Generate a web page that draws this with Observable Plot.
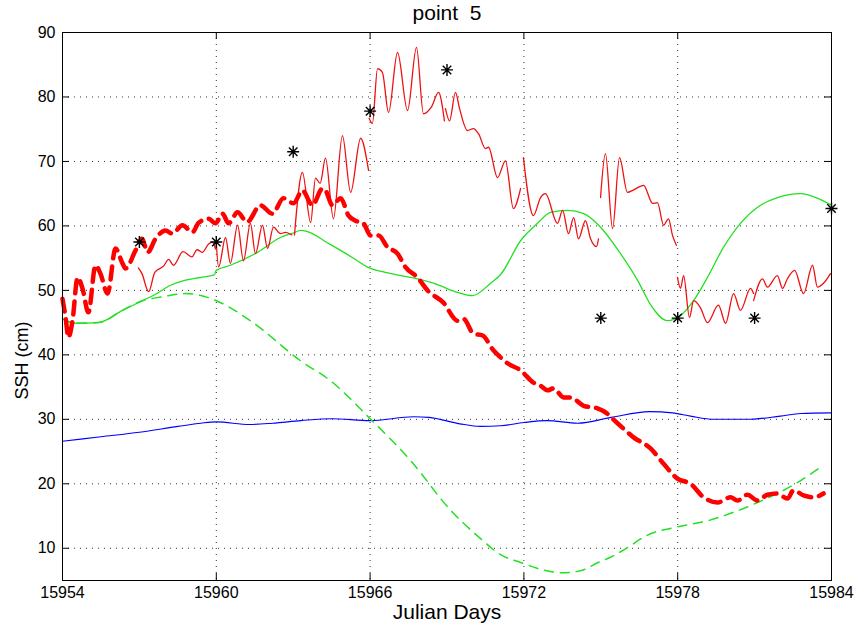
<!DOCTYPE html>
<html>
<head>
<meta charset="utf-8">
<script src="https://cdn.jsdelivr.net/npm/d3@7"></script>
<script src="https://cdn.jsdelivr.net/npm/@observablehq/plot@0.6"></script>
<style>
  html, body { margin: 0; padding: 0; background: white; }
  #chart { width: 858px; height: 628px; }
</style>
</head>
<body>
<div id="chart"></div>
<script>
// ---- text ----
const titleText = "point  5";
const xLabel = "Julian Days";
const yLabel = "SSH (cm)";

// ---- tick values ----
const xTicks = [15954, 15960, 15966, 15972, 15978, 15984];
const yTicks = [10, 20, 30, 40, 50, 60, 70, 80, 90];

// ---- observations (asterisks) ----
const obsDays = [15957, 15960, 15963, 15966, 15969, 15975, 15978, 15981, 15984];
const obsValues = [57.5, 57.5, 71.5, 77.8, 84.2, 45.7, 45.7, 45.7, 62.7];

// ---- thick red dashed series [day, SSH] ----
const thickRed = [[15954.00,48.7],[15954.12,45.8],[15954.23,42.7],[15954.39,45.3],[15954.59,52.0],[15954.78,50.3],[15955.01,46.6],[15955.29,53.9],[15955.48,52.6],[15955.76,49.5],[15956.07,56.5],[15956.34,54.2],[15956.46,53.4],[15956.85,56.2],[15957.10,58.0],[15957.32,55.9],[15957.63,58.0],[15958.02,59.3],[15958.29,58.8],[15958.68,60.1],[15959.07,59.0],[15959.31,60.5],[15959.70,61.1],[15959.97,60.4],[15960.24,61.9],[15960.48,60.4],[15960.83,62.1],[15961.20,60.6],[15961.72,63.2],[15962.19,61.9],[15962.62,64.3],[15963.01,63.5],[15963.36,65.5],[15963.75,63.2],[15964.14,65.8],[15964.26,65.5],[15964.53,63.2],[15964.85,64.3],[15965.16,61.6],[15965.43,60.8],[15965.74,60.4],[15966.02,58.5],[15966.33,58.5],[15966.68,56.7],[15967.07,55.7],[15967.38,53.6],[15967.85,52.0],[15968.24,50.0],[15968.86,48.1],[15969.41,45.3],[15969.64,45.6],[15970.03,43.3],[15970.39,43.0],[15970.81,40.7],[15971.09,39.6],[15971.36,38.7],[15971.87,37.6],[15972.37,35.7],[15972.65,35.2],[15972.92,34.5],[15973.16,34.8],[15973.55,33.4],[15973.82,33.4],[15974.33,32.1],[15974.87,31.7],[15975.10,31.3],[15975.65,29.4],[15976.28,27.2],[15976.94,25.5],[15977.45,23.1],[15977.99,20.8],[15978.50,20.0],[15979.01,17.9],[15979.55,17.1],[15980.06,17.9],[15980.33,17.4],[15980.72,18.3],[15981.11,17.4],[15981.50,18.3],[15981.89,18.5],[15982.28,17.7],[15982.52,19.0],[15982.91,18.2],[15983.30,17.9],[15983.69,18.5]];

// ---- thin red series, 3-day segments ----
const redSeg1 = [[15956.96,53.5],[15957.10,52.6],[15957.36,49.8],[15957.60,52.8],[15957.95,53.8],[15958.14,54.8],[15958.33,53.9],[15958.70,56.0],[15959.05,55.2],[15959.25,56.3],[15959.45,55.9],[15959.70,57.2],[15959.85,57.5],[15959.97,56.4]];
const redSeg2 = [[15960.00,57.3],[15960.09,53.6],[15960.36,58.2],[15960.55,54.2],[15960.83,60.1],[15961.06,54.6],[15961.33,60.4],[15961.53,55.7],[15961.80,60.1],[15962.00,56.5],[15962.23,59.8],[15962.50,58.8],[15962.70,59.0],[15962.95,58.6]];
const redSeg3 = [[15963.05,58.6],[15963.36,68.3],[15963.68,60.5],[15963.87,67.4],[15964.05,66.6],[15964.26,70.5],[15964.57,61.1],[15964.92,74.0],[15965.24,65.2],[15965.63,73.6],[15965.94,68.6]];
const redSeg4 = [[15965.96,76.7],[15966.09,75.9],[15966.29,84.4],[15966.48,83.8],[15966.72,77.6],[15967.07,86.9],[15967.46,77.9],[15967.81,87.7],[15968.08,77.4],[15968.40,78.5],[15968.67,80.7],[15968.90,76.3]];
const redSeg5 = [[15968.94,78.2],[15969.10,76.3],[15969.33,80.7],[15969.49,78.2],[15969.80,74.8],[15970.03,75.1],[15970.23,74.3],[15970.50,72.0],[15970.62,72.2],[15970.97,67.5],[15971.28,70.1],[15971.59,62.7],[15971.87,65.8]];
const redSeg6 = [[15971.98,70.6],[15972.37,61.6],[15972.65,64.4],[15972.84,65.0],[15973.31,60.4],[15973.51,62.4],[15973.74,58.8],[15973.94,61.3],[15974.13,58.0],[15974.40,60.8],[15974.60,58.0],[15974.83,56.8],[15974.91,58.0]];
const redSeg7 = [[15974.99,64.4],[15975.18,71.2],[15975.46,59.6],[15975.73,70.6],[15976.04,65.2],[15976.28,65.6],[15976.67,66.3],[15977.02,63.5],[15977.21,63.6],[15977.45,60.1],[15977.64,61.1],[15977.80,58.5],[15977.95,57.0]];
const redSeg8 = [[15977.99,52.0],[15978.11,50.3],[15978.23,52.3],[15978.46,45.8],[15978.62,48.4],[15978.89,47.3],[15979.16,45.0],[15979.59,47.7],[15979.87,44.9],[15980.18,49.5],[15980.45,46.9],[15980.84,50.3],[15980.96,49.5]];
const redSeg9 = [[15980.96,48.4],[15981.31,51.8],[15981.50,50.5],[15981.89,52.3],[15982.09,50.3],[15982.28,51.8],[15982.56,53.1],[15982.91,49.5],[15983.26,53.9],[15983.45,50.5],[15983.69,51.1],[15983.96,52.6]];

// ---- green solid series ----
const greenSolid = [[15954.00,45.6],[15954.51,44.9],[15955.40,45.0],[15956.34,46.9],[15957.12,48.4],[15957.63,49.4],[15958.21,50.8],[15958.80,51.6],[15959.38,52.0],[15959.92,52.4],[15960.00,53.1],[15960.55,53.9],[15961.61,55.9],[15962.50,58.2],[15963.00,58.9],[15963.30,59.3],[15963.75,58.8],[15964.20,57.7],[15964.85,56.2],[15965.50,54.6],[15965.90,53.6],[15966.60,52.8],[15967.20,52.3],[15967.85,51.8],[15968.50,51.1],[15969.40,49.7],[15970.00,49.2],[15970.70,51.1],[15971.10,52.5],[15971.87,57.7],[15972.53,60.4],[15973.04,62.1],[15973.70,62.4],[15974.33,61.9],[15974.99,59.8],[15975.77,55.7],[15976.43,51.6],[15976.94,47.8],[15977.60,45.3],[15978.11,46.1],[15978.62,48.4],[15979.16,52.0],[15979.79,56.7],[15980.45,60.4],[15981.23,63.2],[15981.89,64.4],[15982.79,65.0],[15983.45,64.3],[15984.00,63.2]];

// ---- green dashed series ----
const greenDashed = [[15954.00,45.6],[15954.51,44.9],[15955.40,45.0],[15956.34,46.9],[15957.12,48.4],[15957.90,49.0],[15958.80,49.5],[15959.40,49.2],[15960.00,48.4],[15961.33,45.3],[15963.28,39.1],[15964.45,36.0],[15966.00,30.1],[15967.58,23.6],[15969.14,15.9],[15970.31,11.5],[15971.09,9.0],[15971.87,7.8],[15972.60,6.8],[15973.50,6.2],[15974.20,6.5],[15974.90,7.8],[15975.38,8.6],[15976.04,10.1],[15976.80,12.0],[15977.84,13.2],[15979.20,14.3],[15981.00,16.9],[15982.80,20.5],[15983.65,22.8]];

// ---- blue series ----
const blueLine = [[15954.0,26.6],[15955.5,27.3],[15957.0,28.0],[15958.5,28.9],[15959.4,29.4],[15960.0,29.6],[15961.3,29.2],[15962.2,29.4],[15963.3,29.8],[15964.5,30.1],[15966.0,29.8],[15967.7,30.4],[15968.3,30.3],[15969.5,29.3],[15970.3,28.9],[15971.1,29.0],[15972.0,29.5],[15972.9,29.8],[15974.1,29.4],[15975.4,30.3],[15976.9,31.2],[15977.8,31.0],[15978.5,30.5],[15979.4,30.0],[15980.7,30.0],[15982.0,30.5],[15982.8,30.9],[15984.0,31.0]];

// build thin red table with segment ids
const thinRed = [redSeg1, redSeg2, redSeg3, redSeg4, redSeg5, redSeg6, redSeg7, redSeg8, redSeg9]
  .flatMap((seg, i) => seg.map(([d, v]) => ({day: d, ssh: v, seg: i})));
const obs = obsDays.map((d, i) => ({day: d, ssh: obsValues[i]}));

// MATLAB-style 8-arm asterisk symbol
const matlabStar = {
  draw(ctx, size) {
    const r = Math.sqrt(size / Math.PI);
    const q = r * Math.SQRT1_2;
    ctx.moveTo(-r, 0); ctx.lineTo(r, 0);
    ctx.moveTo(0, -r); ctx.lineTo(0, r);
    ctx.moveTo(-q, -q); ctx.lineTo(q, q);
    ctx.moveTo(-q, q); ctx.lineTo(q, -q);
  }
};

const X = d => d[0], Y = d => d[1];
const W = 858, H = 628, ML = 62, MR = 27, MT = 32, MB = 48;
const frameW = W - ML - MR, frameH = H - MT - MB, tickLen = 7;
const gridStyle = {stroke: "#333", strokeDasharray: "1,5", strokeWidth: 1};

const chart = Plot.plot({
  width: W, height: H,
  marginLeft: ML, marginRight: MR, marginTop: MT, marginBottom: MB,
  style: {fontFamily: "'Liberation Sans', Arial, sans-serif", background: "white", color: "black"},
  x: {domain: [15954, 15984]},
  y: {domain: [5, 90]},
  marks: [
    Plot.ruleX(xTicks.slice(1, -1), {x: d => d, ...gridStyle}),
    Plot.ruleY(yTicks.slice(0, -1), {y: d => d, ...gridStyle}),
    Plot.line(blueLine, {x: X, y: Y, stroke: "#0000ff", strokeWidth: 1.1, curve: "monotone-x"}),
    Plot.line(greenDashed, {x: X, y: Y, stroke: "#22e022", strokeWidth: 1.5, strokeDasharray: "9,7", curve: "monotone-x"}),
    Plot.line(greenSolid, {x: X, y: Y, stroke: "#22e022", strokeWidth: 1.3, curve: "monotone-x"}),
    Plot.line(thinRed, {x: "day", y: "ssh", z: "seg", stroke: "#ee1111", strokeWidth: 1.3, curve: "monotone-x"}),
    Plot.line(thickRed, {x: X, y: Y, stroke: "#ff0000", strokeWidth: 4.5, strokeDasharray: "13,8", curve: "monotone-x"}),
    Plot.dot(obs, {x: "day", y: "ssh", symbol: matlabStar, r: 6, fill: "none", stroke: "black", strokeWidth: 1.4}),
    Plot.frame({stroke: "black", strokeWidth: 1}),
    Plot.tickX(xTicks, {x: d => d, insetTop: frameH - tickLen, stroke: "black"}),
    Plot.tickX(xTicks, {x: d => d, insetBottom: frameH - tickLen, stroke: "black"}),
    Plot.tickY(yTicks, {y: d => d, insetRight: frameW - tickLen, stroke: "black"}),
    Plot.tickY(yTicks, {y: d => d, insetLeft: frameW - tickLen, stroke: "black"}),
    Plot.axisX(xTicks, {tickSize: 0, tickPadding: 6, fontSize: 16, tickFormat: d => String(d), label: null}),
    Plot.axisY(yTicks, {tickSize: 0, tickPadding: 7, fontSize: 16, tickFormat: d => String(d), label: null}),
    Plot.text([xLabel], {text: d => d, frameAnchor: "bottom", textAnchor: "middle", lineAnchor: "middle", dy: 32, fontSize: 21}),
    Plot.text([yLabel], {text: d => d, frameAnchor: "left", textAnchor: "middle", lineAnchor: "middle", dx: -40, dy: 54, rotate: -90, fontSize: 18}),
    Plot.text([titleText], {text: d => d, frameAnchor: "top", textAnchor: "middle", lineAnchor: "middle", dy: -19, fontSize: 21})
  ]
});
document.getElementById("chart").appendChild(chart);
</script>
</body>
</html>
